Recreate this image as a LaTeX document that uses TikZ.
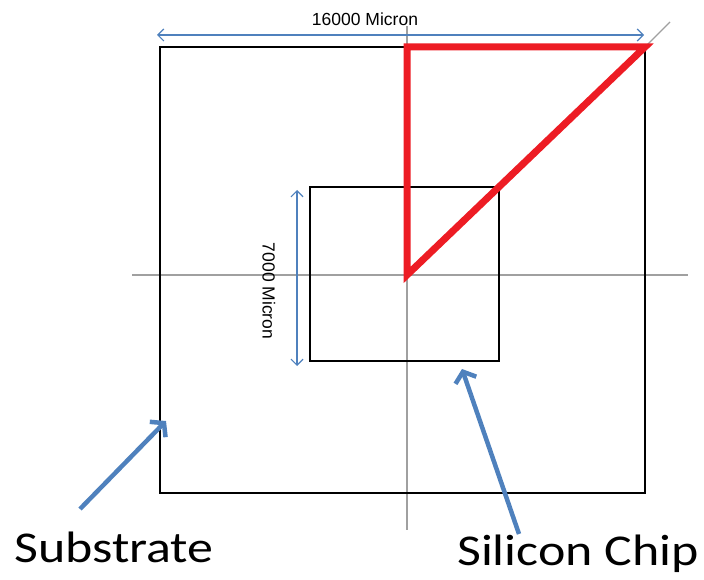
\documentclass[tikz,border=0pt]{standalone}
\usepackage{fontspec}
\setmainfont{Carlito}
\newfontfamily\dimfont{Liberation Sans}
\usetikzlibrary{arrows.meta}
\definecolor{axisgray}{RGB}{160,160,160}
\definecolor{arrowblue}{RGB}{79,129,189}
\definecolor{trired}{RGB}{237,28,36}
\tikzset{
  x=1pt, y=-1pt,
  box/.style={draw=black, line width=2.2pt},
  axisline/.style={draw=axisgray, line width=1.6pt},
  dimline/.style={draw=arrowblue, line width=1.2pt, {Straight Barb[length=6pt,width=12pt]}-{Straight Barb[length=6pt,width=12pt]}},
  pointer/.style={draw=arrowblue, line width=4.5pt, -{Straight Barb[length=9pt,width=22pt,line width=4.5pt]}},
  dimtext/.style={font=\dimfont\fontsize{17.5}{17.5}\selectfont, inner sep=0pt},
  bigtext/.style={font=\fontsize{44}{44}\selectfont, inner sep=0pt, anchor=base west, xscale=1.18},
}
\begin{document}
\begin{tikzpicture}
\useasboundingbox (0,0) rectangle (704,580);
% centre axes
\coordinate (hl) at (132,275);
\coordinate (hr) at (688,275);
\coordinate (vt) at (407,26);
\coordinate (vb) at (407,530);
\draw[axisline] (hl) -- (hr);
\draw[axisline] (vt) -- (vb);
% substrate and chip outlines
\draw[box] (160,47) rectangle (645,493);
\draw[box] (310,187) rectangle (499,361);
% diagonal guide beyond the corner
\coordinate (ctr) at (407,275);
\coordinate (corner) at (645,47);
\coordinate (diagend) at (670,22);
\draw[axisline, line width=1.2pt] (corner) -- (diagend);
% red triangle
\coordinate (top) at (407,47);
\draw[draw=trired, line width=7pt, line join=miter] (ctr) -- (top) -- (corner) -- cycle;
% dimensions
\coordinate (d1l) at (157,35);
\coordinate (d1r) at (644,35);
\draw[dimline] (d1l) -- (d1r);
\node[dimtext] (w) at (365,19) {16000 Micron};
\coordinate (d2t) at (297,190);
\coordinate (d2b) at (297,366);
\draw[dimline] (d2t) -- (d2b);
\node[dimtext, rotate=-90] (h) at (269,291) {7000 Micron};
% labels with pointers
\node[bigtext] (sub) at (14,562) {Substrate};
\node[bigtext] (chip) at (457,565) {Silicon Chip};
\coordinate (subtip) at (166,421);
\coordinate (chiptip) at (462,369);
\draw[pointer] (80,509) -- (subtip);
\draw[pointer] (519,534) -- (chiptip);
\end{tikzpicture}
\end{document}
